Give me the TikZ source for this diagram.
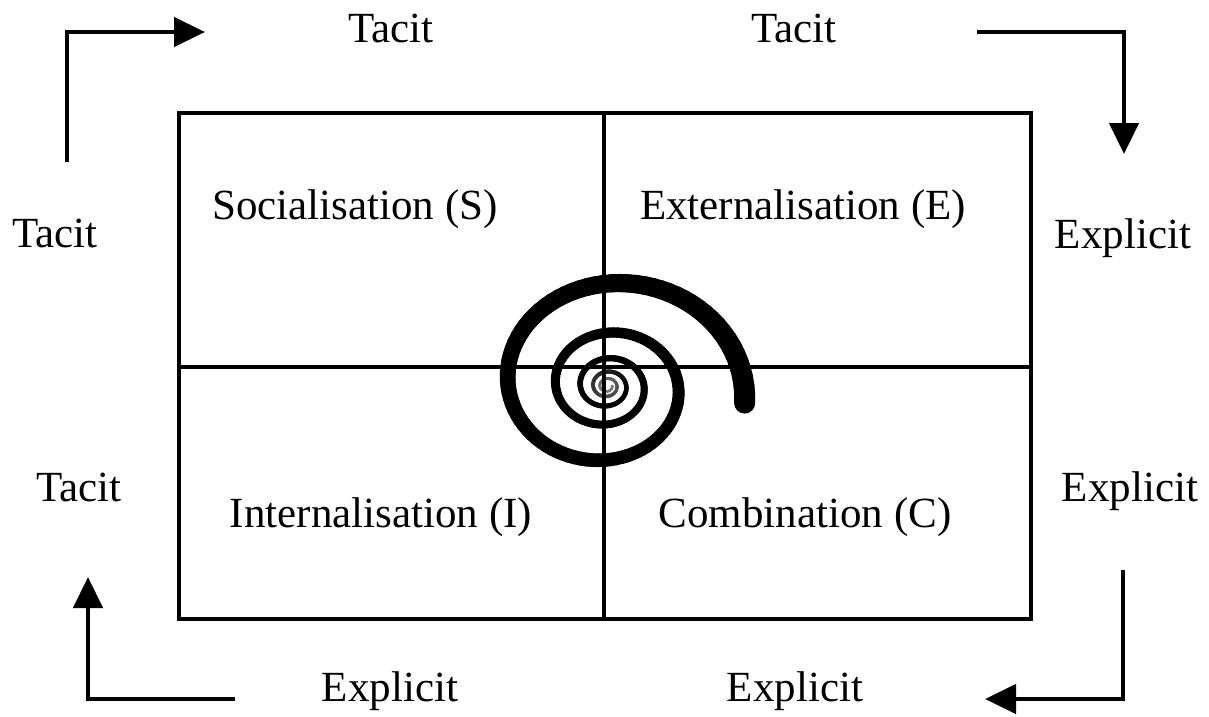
\documentclass[tikz,border=0pt]{standalone}
\usepackage{fontspec}
\setmainfont{Liberation Serif}
\usetikzlibrary{arrows.meta}
\begin{document}
\begin{tikzpicture}[x=1pt,y=-1pt,
  lbl/.style={anchor=base,inner sep=0pt,font=\fontsize{43}{43}\selectfont},
  flow/.style={line width=4.5pt,-{Triangle[length=31pt,width=29pt]}},
  frame/.style={line width=3.3pt}]
\useasboundingbox (0,0) rectangle (1209,716);
% spiral
\foreach \t in {-8,-4,...,1800}{
  \pgfmathsetmacro\ra{137*exp(-0.6539*\t/360)}
  \pgfmathsetmacro\rb{137*exp(-0.6539*(\t+4)/360)}
  \pgfmathsetmacro\w{1.8+19*\ra/137}
  \pgfmathtruncatemacro\g{min(100,max(0,(\ra-5)*100/15))}
  \draw[line width=\w pt,line cap=round,color=black!\g!gray]
    ({607+\ra*cos(\t)},{386-0.88*\ra*sin(\t)}) -- ({607+\rb*cos(\t+4)},{386-0.88*\rb*sin(\t+4)});
}
% frame
\coordinate (tl) at (179,113);
\coordinate (br) at (1031,619);
\coordinate (mt) at (604,113);
\coordinate (mb) at (604,619);
\coordinate (ml) at (179,367);
\coordinate (mr) at (1031,367);
\draw[frame] (tl) rectangle (br);
\draw[frame] (mt) -- (mb);
\draw[frame] (ml) -- (mr);
% quadrant labels
\node[lbl] (S) at (355,219) {Socialisation (S)};
\node[lbl] (E) at (803,219) {Externalisation (E)};
\node[lbl] (I) at (381,527) {Internalisation (I)};
\node[lbl] (C) at (805,527) {Combination (C)};
% side labels
\node[lbl] (t1) at (391,42) {Tacit};
\node[lbl] (t2) at (794,42) {Tacit};
\node[lbl] (t3) at (55,247) {Tacit};
\node[lbl] (t4) at (79,501) {Tacit};
\node[lbl] (e1) at (1123,248) {Explicit};
\node[lbl] (e2) at (1130,501) {Explicit};
\node[lbl] (e3) at (390,701) {Explicit};
\node[lbl] (e4) at (795,701) {Explicit};
% arrows
\coordinate (a1s) at (67,162);
\coordinate (a1c) at (67,32);
\coordinate (a1e) at (205,32);
\draw[flow] (a1s) -- (a1c) -- (a1e);
\coordinate (a2s) at (977,32);
\coordinate (a2c) at (1124,32);
\coordinate (a2e) at (1124,154);
\draw[flow] (a2s) -- (a2c) -- (a2e);
\coordinate (a3s) at (1123,570);
\coordinate (a3c) at (1123,699);
\coordinate (a3e) at (985,699);
\draw[flow] (a3s) -- (a3c) -- (a3e);
\coordinate (a4s) at (235,699);
\coordinate (a4c) at (88,699);
\coordinate (a4e) at (88,577);
\draw[flow] (a4s) -- (a4c) -- (a4e);
\end{tikzpicture}
\end{document}
